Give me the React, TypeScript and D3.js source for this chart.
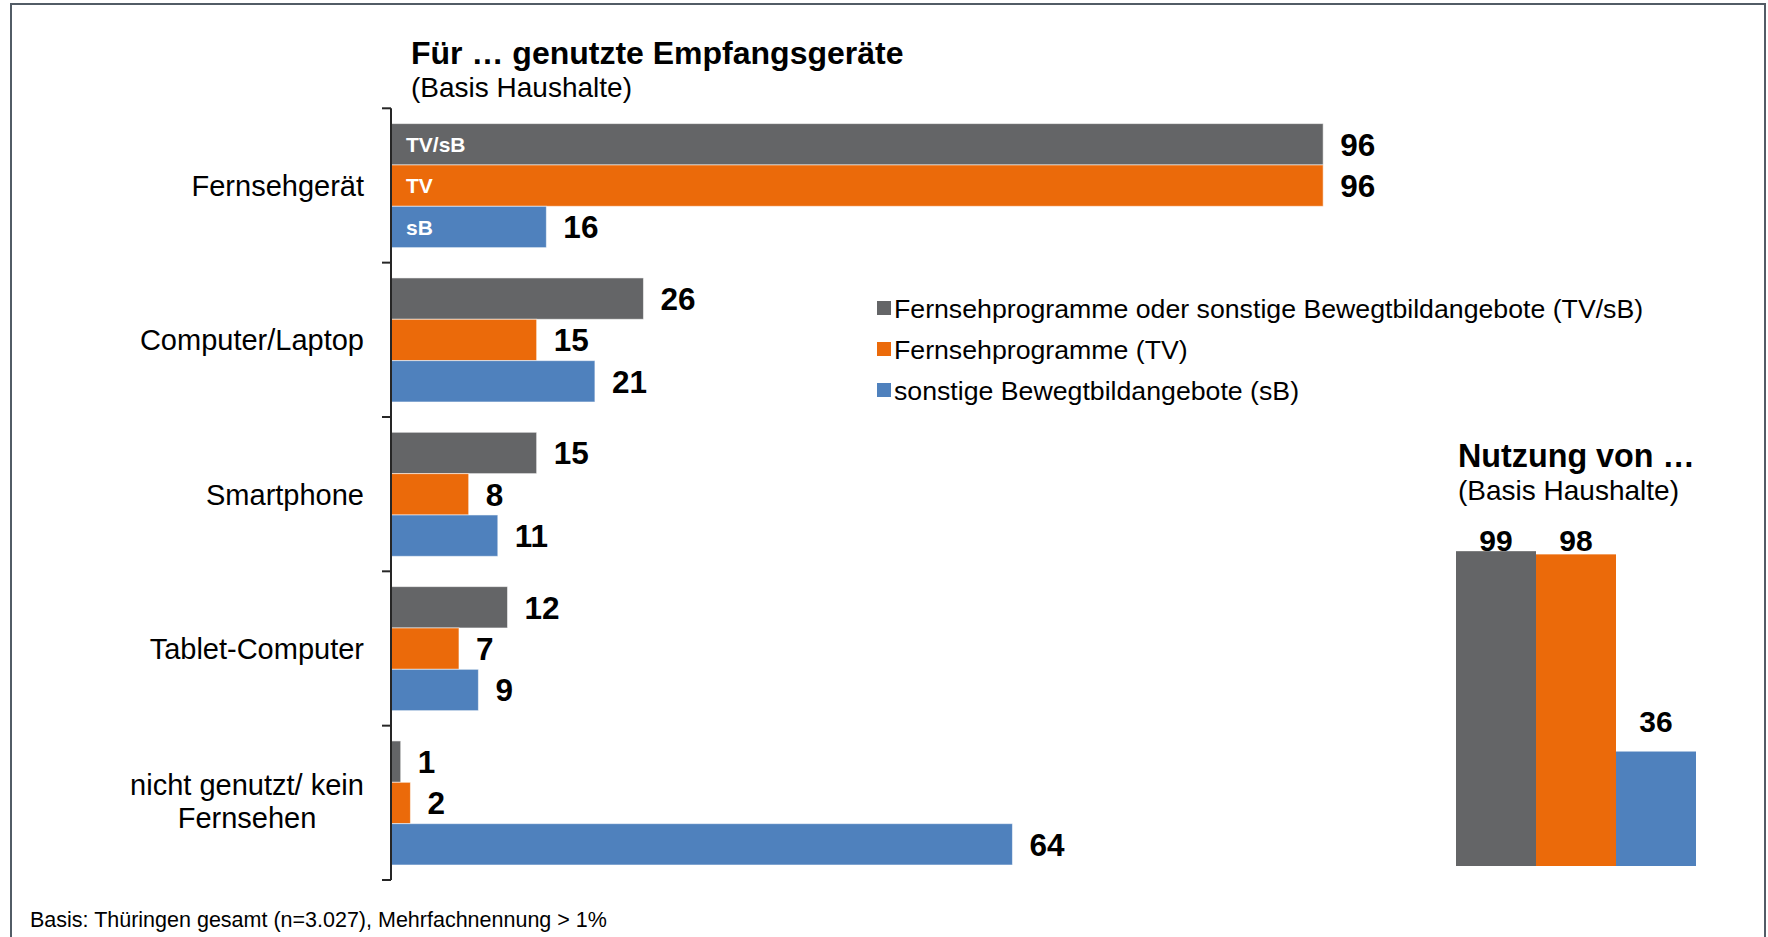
import React from 'react';
import * as d3 from 'd3';

const categories = ['Fernsehgerät', 'Computer/Laptop', 'Smartphone', 'Tablet-Computer', 'nicht genutzt/ kein Fernsehen'];
const categoryLines = [['Fernsehgerät'], ['Computer/Laptop'], ['Smartphone'], ['Tablet-Computer'], ['nicht genutzt/ kein', 'Fernsehen']];
const seriesKeys = ['TV/sB', 'TV', 'sB'];
const seriesNames = [
  'Fernsehprogramme oder sonstige Bewegtbildangebote (TV/sB)',
  'Fernsehprogramme (TV)',
  'sonstige Bewegtbildangebote (sB)',
];
const tvsbValues = [96, 26, 15, 12, 1];
const tvValues = [96, 15, 8, 7, 2];
const sbValues = [16, 21, 11, 9, 64];
const usageValues = [99, 98, 36];
const colors = ['#646567', '#EB6A0A', '#4F81BD'];

const W = 1768;
const H = 937;
const FONT = '"Liberation Sans", Arial, sans-serif';

export default function App() {
  const series = [tvsbValues, tvValues, sbValues];

  // left: horizontal grouped bars
  const y0 = d3.scaleBand<string>().domain(categories).range([108.3, 880]);
  const y1 = d3.scaleBand<string>().domain(seriesKeys).range([15.3, y0.bandwidth() - 15]);
  const x = d3.scaleLinear().domain([0, 100]).range([391, 1362]);

  // right: usage columns
  const xr = d3.scaleBand<string>().domain(seriesKeys).range([1456, 1696]);
  const yr = d3.scaleLinear().domain([0, 100]).range([866, 548]);
  const labelCeil = 551;

  const tickYs = [...categories.map(c => y0(c)!), y0.range()[1]];

  return (
    <svg width={W} height={H} style={{ position: 'absolute', left: 0, top: 0 }} fontFamily={FONT}>
      <rect width={W} height={H} fill="#fff" />
      {/* frame */}
      <line x1={11} y1={4} x2={1766} y2={4} stroke="#525c66" strokeWidth={2} />
      <line x1={11} y1={3} x2={11} y2={H} stroke="#525c66" strokeWidth={2} />
      <line x1={1765} y1={3} x2={1765} y2={H} stroke="#525c66" strokeWidth={2} />

      <text x={411} y={64} fontSize={32} fontWeight="bold">Für … genutzte Empfangsgeräte</text>
      <text x={411} y={97} fontSize={28}>(Basis Haushalte)</text>

      {categories.map((c, ci) => (
        <g key={c}>
          {series.map((vals, si) => {
            const k = seriesKeys[si];
            const by = y0(c)! + y1(k)!;
            const bh = y1.bandwidth();
            return (
              <g key={k}>
                <rect x={x(0)} y={by} width={x(vals[ci]) - x(0)} height={bh}
                  fill={colors[si]} stroke="rgba(255,255,255,0.55)" strokeWidth={1} />
                <text x={x(vals[ci]) + 17} y={by + bh / 2} dy="0.36em" fontSize={31.5} fontWeight="bold">
                  {vals[ci]}
                </text>
                {ci === 0 && (
                  <text x={x(0) + 15} y={by + bh / 2} dy="0.36em" fontSize={21} fontWeight="bold" fill="#fff">
                    {k}
                  </text>
                )}
              </g>
            );
          })}
          {categoryLines[ci].length === 1 ? (
            <text x={364} y={y0(c)! + y0.bandwidth() / 2} dy="0.36em" fontSize={29} textAnchor="end">
              {categoryLines[ci][0]}
            </text>
          ) : (
            <text x={247} y={y0(c)! + y0.bandwidth() / 2} fontSize={29} textAnchor="middle">
              {categoryLines[ci].map((l, li) => (
                <tspan key={li} x={247} dy={li === 0 ? -7.8 : 33.3}>{l}</tspan>
              ))}
            </text>
          )}
        </g>
      ))}

      {/* axis */}
      <line x1={x(0)} y1={tickYs[0]} x2={x(0)} y2={tickYs[tickYs.length - 1]} stroke="#262626" strokeWidth={2} />
      {tickYs.map((ty, i) => (
        <line key={i} x1={x(0) - 9} y1={ty} x2={x(0)} y2={ty} stroke="#262626" strokeWidth={2} />
      ))}

      {/* legend */}
      {seriesNames.map((n, i) => {
        const ly = 308 + i * 41;
        return (
          <g key={n}>
            <rect x={877} y={ly - 7} width={14} height={14} fill={colors[i]} />
            <text x={894} y={ly} dy="0.36em" fontSize={26.7}>{n}</text>
          </g>
        );
      })}

      {/* right panel */}
      <text x={1458} y={467} fontSize={32.3} fontWeight="bold">Nutzung von …</text>
      <text x={1458} y={500} fontSize={28}>(Basis Haushalte)</text>
      {usageValues.map((v, i) => {
        const k = seriesKeys[i];
        return (
          <g key={k}>
            <rect x={xr(k)} y={yr(v)} width={xr.bandwidth()} height={yr(0) - yr(v)} fill={colors[i]} />
            <text x={xr(k)! + xr.bandwidth() / 2} y={Math.max(yr(v) - 20, labelCeil)} fontSize={30}
              fontWeight="bold" textAnchor="middle">{v}</text>
          </g>
        );
      })}

      <text x={30} y={927} fontSize={21.5}>Basis: Thüringen gesamt (n=3.027), Mehrfachnennung &gt; 1%</text>
    </svg>
  );
}
